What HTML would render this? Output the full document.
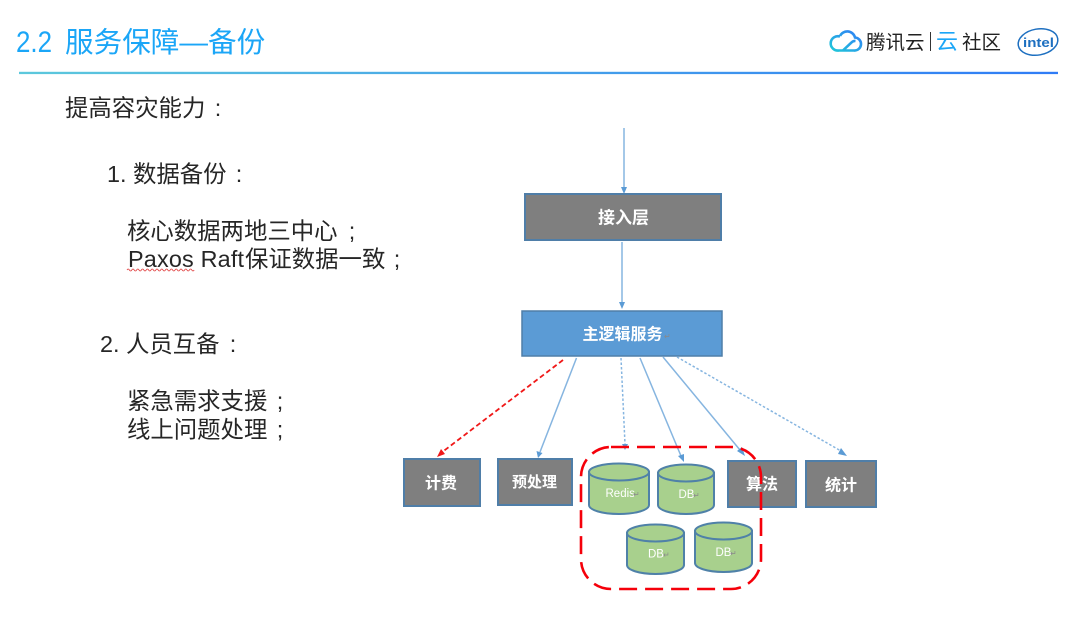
<!DOCTYPE html>
<html><head><meta charset="utf-8">
<style>
html,body{margin:0;padding:0;background:#fff;width:1080px;height:618px;overflow:hidden}
svg{display:block;filter:blur(.35px)}
text{font-family:"Liberation Sans","Noto Sans CJK SC",sans-serif}
.b{font-size:23.4px;fill:#262626}
.p{font-size:23.4px;fill:#262626;text-anchor:middle}
.w{fill:#fff;font-weight:700;font-size:16px;text-anchor:middle}
.box{fill:#7f7f7f;stroke:#4f7ea8;stroke-width:2}
.cyl{fill:#a8d08d;stroke:#4f81a8;stroke-width:2}
.l{stroke:#86b5e0;stroke-width:1.5;fill:none}
.d{stroke:#86b5e0;stroke-width:1.5;fill:none;stroke-dasharray:2.5 2}
.a{fill:#5b9bd5}
.db{fill:#fff;font-size:11.5px}
.r{fill:#8a8a8a;font-size:8px}
</style></head><body>
<svg width="1080" height="618" viewBox="0 0 1080 618" xmlns="http://www.w3.org/2000/svg">
<defs><linearGradient id="g" x1="0" x2="1" y1="0" y2="0"><stop offset="0" stop-color="#5cc8dc"/><stop offset="1" stop-color="#2f7cf6"/></linearGradient>
<linearGradient id="c" x1="0" x2="1" y1="1" y2="0"><stop offset="0" stop-color="#20c8d8"/><stop offset="1" stop-color="#2f7cf6"/></linearGradient></defs>
<rect width="1080" height="618" fill="#fff"/>
<text x="16" y="52" font-size="29.5" fill="#1ba6f7" textLength="36" lengthAdjust="spacingAndGlyphs">2.2</text>
<text x="65" y="52" font-size="28.6" fill="#1ba6f7">服务保障—备份</text>
<rect x="19" y="71.800" width="1039" height="2.300" fill="url(#g)"/>

<path d="M843 50.500 H854 a6.500 6.500 0 0 0 1 -13 a8 8 0 0 0 -15 -1.500 M840 36.500 a7.200 7.200 0 1 0 -1 14 h4 l8.500 -8 a5 5 0 0 1 4 -1.500" fill="none" stroke="url(#c)" stroke-width="2.600"/>
<text x="866" y="49" font-size="19.500" fill="#222">腾讯云</text>
<rect x="930" y="32" width="1" height="19" fill="#333"/>
<text x="936" y="49" font-size="22" fill="#1ba6f7">云</text>
<text x="962" y="49" font-size="19.500" fill="#222">社区</text>
<ellipse cx="1038" cy="42" rx="20" ry="13" transform="rotate(-10 1038 42)" fill="none" stroke="#1d6fc0" stroke-width="1.500"/>
<text x="1023" y="47" font-size="13" font-weight="700" fill="#1d6fc0" textLength="31" lengthAdjust="spacingAndGlyphs">intel</text>

<text class="b" x="65" y="116">提高容灾能力</text><text class="p" x="218" y="116">:</text>
<text class="b" x="107" y="182">1.</text><text class="b" x="133" y="182">数据备份</text><text class="p" x="239" y="182">:</text>
<text class="b" x="127" y="239">核心数据两地三中心</text><text class="p" x="352" y="239">;</text>
<text class="b" x="128" y="267" textLength="116">Paxos Raft</text><text class="b" x="245" y="267">保证数据一致</text><text class="p" x="397" y="267">;</text>
<path d="M127 270 q1.200 -2 2.400 0 t2.400 0 t2.400 0 t2.400 0 t2.400 0 t2.400 0 t2.400 0 t2.400 0 t2.400 0 t2.400 0 t2.400 0 t2.400 0 t2.400 0 t2.400 0 t2.400 0 t2.400 0 t2.400 0 t2.400 0 t2.400 0 t2.400 0 t2.400 0 t2.400 0 t2.400 0 t2.400 0 t2.400 0 t2.400 0 t2.400 0 t2.400 0" fill="none" stroke="#e04040" stroke-width=".8"/>
<text class="b" x="100" y="352">2.</text><text class="b" x="126" y="352">人员互备</text><text class="p" x="233" y="352">:</text>
<text class="b" x="127" y="409">紧急需求支援</text><text class="p" x="280" y="409">;</text>
<text class="b" x="127" y="437.500">线上问题处理</text><text class="p" x="280" y="437.500">;</text>

<line class="l" x1="624" y1="128" x2="624" y2="188"/>
<polygon class="a" points="621,187 627,187 624,194"/>
<line class="l" x1="622" y1="242" x2="622" y2="303"/>
<polygon class="a" points="619,302 625,302 622,309"/>

<rect class="box" x="525" y="194" width="196" height="46"/>
<text class="w" x="623.500" y="223.500" style="font-size:17px">接入层</text>
<rect x="522" y="311" width="200" height="45" fill="#5b9bd5" stroke="#4f7ea8" stroke-width="1.500"/>
<text class="w" x="622.500" y="339.500">主逻辑服务</text>
<text class="r" x="664" y="339">↵</text>

<line x1="563" y1="360" x2="441" y2="453" stroke="#f01818" stroke-width="1.800" stroke-dasharray="5 3"/>
<polygon fill="#f01818" points="437,457 441,449 445,454"/>
<line class="l" x1="576.500" y1="358" x2="540" y2="452"/>
<polygon class="a" points="536.500,451 542.500,453 538,458"/>
<line class="d" x1="621" y1="358" x2="625" y2="444"/>
<polygon class="a" points="622,444 628,444 625,450"/>
<line class="l" x1="640" y1="358" x2="681" y2="456"/>
<polygon class="a" points="678,456 684,454 684,462"/>
<line class="l" x1="663" y1="357" x2="740" y2="450"/>
<polygon class="a" points="737,451 742,447 745,456"/>
<line class="d" x1="677" y1="357" x2="841" y2="451"/>
<polygon class="a" points="841,448 838,454 847,456"/>

<rect class="box" x="404" y="459" width="76" height="47"/>
<text class="w" x="441" y="488.500">计费</text>
<rect class="box" x="498" y="459" width="74" height="46"/>
<text class="w" x="534.500" y="487" style="font-size:15px">预处理</text>
<rect class="box" x="728" y="461" width="68" height="46"/>
<text class="w" x="762" y="489.500">算法</text>
<rect class="box" x="806" y="461" width="70" height="46"/>
<text class="w" x="841" y="490.500">统计</text>

<path class="cyl" d="M589 472 v33 c0 5 13 9 30 9 s30 -4 30 -9 v-33 z"/>
<ellipse class="cyl" cx="619" cy="472" rx="30" ry="8.500"/>
<text class="db" x="605.500" y="497">Redis</text><text class="r" x="633" y="497">↵</text>
<path class="cyl" d="M658 473 v32 c0 5 12.500 9 28 9 s28 -4 28 -9 v-32 z"/>
<ellipse class="cyl" cx="686" cy="473" rx="28" ry="8.500"/>
<text class="db" x="678.500" y="498">DB</text><text class="r" x="693" y="498">↵</text>
<path class="cyl" d="M627 533 v32 c0 5 12.500 9 28.500 9 s28.500 -4 28.500 -9 v-32 z"/>
<ellipse class="cyl" cx="655.500" cy="533" rx="28.500" ry="8.500"/>
<text class="db" x="648" y="557.500">DB</text><text class="r" x="663" y="557.500">↵</text>
<path class="cyl" d="M695 531 v32 c0 5 12.500 9 28.500 9 s28.500 -4 28.500 -9 v-32 z"/>
<ellipse class="cyl" cx="723.500" cy="531" rx="28.500" ry="8.500"/>
<text class="db" x="715.500" y="556">DB</text><text class="r" x="730" y="556">↵</text>

<rect x="581" y="447" width="180" height="142" rx="30" ry="30" fill="none" stroke="#f5000a" stroke-width="2.600" stroke-dasharray="18 8"/>
</svg>
</body></html>
